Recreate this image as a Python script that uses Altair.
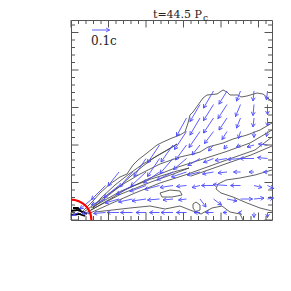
import math
import altair as alt
import pandas as pd

# Plot units: x 0..201, y 0..200 (no tick labels in the original)
X_MAX = 201
Y_MAX = 200

major_ticks = [0, 37.5, 75, 112.5, 150, 187.5]
minor_ticks = [7.5, 15, 22.5, 30, 45, 52.5, 60, 67.5, 82.5, 90, 97.5, 105,
               120, 127.5, 135, 142.5, 157.5, 165, 172.5, 180, 195]

title_text = "t=44.5 P"
title_sub = "c"
key_label = "0.1c"

# velocity vectors: rows of tails (x), common row y, components (dx, dy)
row_y = [129, 115.5, 102, 88.5, 75, 61.5, 48, 34.5, 21, 7.5]
row_x = [
    [142.5, 156, 169.5, 183, 196.5],
    [129, 142.5, 156, 169.5, 183, 196.5],
    [115.5, 129, 142.5, 156, 169.5, 183, 196.5],
    [115.5, 129, 142.5, 156, 169.5, 183, 196.5],
    [88.5, 102, 115.5, 129, 142.5, 156, 169.5, 183, 196.5],
    [75, 88.5, 102, 115.5, 129, 142.5, 156, 169.5, 183, 196.5],
    [48, 61.5, 75, 88.5, 102, 115.5, 129, 142.5, 156, 169.5, 183, 196.5],
    [34.5, 48, 61.5, 75, 88.5, 102, 115.5, 129, 142.5, 156, 169.5, 183, 196.5],
    [21, 34.5, 48, 61.5, 75, 88.5, 102, 115.5, 129, 142.5, 156, 169.5, 183, 196.5],
    [7.5, 21, 34.5, 48, 61.5, 75, 88.5, 102, 115.5, 129, 142.5, 156, 169.5, 183, 196.5],
]
row_dx = [
    [-10, -8, -4, -1, -1],
    [-10, -10, -9, -5, -1, 0],
    [-10, -10, -10, -8, -4, -1, 0],
    [-12, -11, -9, -5, -2, 0, -1],
    [-12, -12, -11, -8, -5, -3, -4, -7, -9],
    [-12, -12, -13, -13, -12, -10, -12, -13, -14, -10],
    [-11, -13, -15, -16, -16, -15, -13, -11, -9, -7, -5, -4],
    [-14, -15, -16, -16, -15, -13, -10, -8, -12, -14, -10, 8, 6],
    [-12, -14, -14, -14, -14, -12, -10, -8, 6, 8, 10, 12, 10, 6],
    [-6, -10, -12, -12, -12, -10, -10, -12, -10, -6, -8, -4, -2, 0, 0],
]
row_dy = [
    [-17, -13, -10, -10, -9],
    [-17, -16, -14, -12, -11, -10],
    [-18, -17, -15, -12, -10, -9, -8],
    [-18, -16, -12, -8, -7, -6, -5],
    [-18, -17, -15, -10, -6, -4, -2, -2, 1],
    [-18, -18, -15, -11, -7, -4, -2, -1, 0, 1],
    [-14, -15, -14, -11, -8, -5, -3, -2, -1, 0, 0, 0],
    [-14, -12, -9, -6, -4, -2, -1, -2, 0, 1, 0, -2, -3],
    [-10, -6, -4, -3, -2, -1, -1, -1, -8, -6, -2, 0, 1, 1],
    [-3, -1, -1, 0, 0, 0, 0, 0, 0, 0, 0, 0, 0, -5, -5],
]
# reference arrow (0.1c)
key_x, key_y, key_dx, key_dy = 21, 190, 17.6, 0

# density contours (grey)
contour_x = [
    [9, 17, 22, 29, 39, 49, 56, 62, 67, 76, 86, 92, 101, 109, 114, 117, 119, 122, 127, 132, 136, 146, 149, 152, 156, 159, 167, 170, 176, 186, 192, 197, 201],
    [22, 34, 48, 60, 72, 84, 96, 106, 100, 86, 72, 58, 44, 30, 22],
    [13, 29, 49, 69, 89, 109, 122, 129, 137, 152, 162, 176, 189, 201],
    [15, 34, 54, 79, 104, 129, 154, 179, 201],
    [17, 39, 64, 89, 114, 139, 164, 184, 201],
    [20, 50, 80, 105, 118, 106, 80, 50, 20],
    [120, 140, 160, 180, 201],
    [201, 184, 169, 155, 147, 145, 150, 162, 176, 189, 201],
    [125, 129, 129, 125, 122, 122, 125],
    [89, 99, 109, 111, 101, 91, 89],
    [24, 59, 79, 94, 109, 119, 130, 141, 151, 159, 169, 172],
]
contour_y = [
    [6, 14, 19, 27, 36, 43, 46, 55, 60, 67, 75, 78, 82, 85, 88, 97, 105, 108, 115, 122, 125, 126, 128, 130, 128, 125, 125, 123, 124, 127, 126, 122, 118],
    [12, 22, 33, 44, 54, 63, 70, 76, 72, 64, 56, 46, 35, 22, 12],
    [8, 20, 34, 46, 56, 63, 66, 68, 73, 77, 81, 85, 90, 97],
    [7, 18, 30, 42, 52, 60, 68, 77, 90],
    [6, 16, 27, 37, 45, 54, 63, 70, 83],
    [10, 26, 38, 47, 52, 49, 41, 29, 12],
    [44, 51, 58, 65, 74],
    [50, 45, 42, 40, 36, 31, 27, 23, 17, 12, 9],
    [18, 15, 10, 8, 12, 16, 18],
    [27, 30, 29, 25, 23, 23, 27],
    [8, 12, 14, 11, 14, 10, 6, 12, 14, 8, 6, 0],
]
# dense (black) contours at the origin
core_x = [[0, 6, 12, 16], [0, 8, 14], [2, 7, 10]]
core_y = [[9, 10, 8, 6], [5, 6, 4], [12, 12, 9]]

# red circle around the central object
circle_r_outer = 21.5
circle_r_inner = 19.3

BLUE = "#4d4dff"
GREY = "#3a3a3a"
FRAME = "#555555"
SERIF = "DejaVu Serif"


def lines_df(xs_list, ys_list, prefix):
    rows = []
    for n, (xs, ys) in enumerate(zip(xs_list, ys_list)):
        for k, (x, y) in enumerate(zip(xs, ys)):
            rows.append({"id": f"{prefix}{n}", "k": k, "x": x, "y": y})
    return pd.DataFrame(rows)


arrows = []
for yv, xs, dxs, dys in zip(row_y, row_x, row_dx, row_dy):
    for xv, dx, dy in zip(xs, dxs, dys):
        arrows.append((xv, yv, dx, dy))
arrows.append((key_x, key_y, key_dx, key_dy))
adf = pd.DataFrame(arrows, columns=["x", "y", "dx", "dy"])
adf["xh"] = adf["x"] + adf["dx"]
adf["yh"] = adf["y"] + adf["dy"]
adf["ang"] = [math.degrees(math.atan2(a, b)) % 360 for a, b in zip(adf["dx"], adf["dy"])]

MAJ, MIN = 7.5, 4.0
tick_rows = []
for t, L in [(v, MAJ) for v in major_ticks] + [(v, MIN) for v in minor_ticks]:
    tick_rows.append({"x": t, "x2": t, "y": 0, "y2": L})
    tick_rows.append({"x": t, "x2": t, "y": Y_MAX, "y2": Y_MAX - L})
    tick_rows.append({"x": 0, "x2": L, "y": t, "y2": t})
    tick_rows.append({"x": X_MAX, "x2": X_MAX - L, "y": t, "y2": t})
tdf = pd.DataFrame(tick_rows)

xs = alt.Scale(domain=[0, X_MAX], nice=False, zero=False)
ys = alt.Scale(domain=[0, Y_MAX], nice=False, zero=False)
X = lambda f: alt.X(f, type="quantitative", scale=xs, axis=None)
Y = lambda f: alt.Y(f, type="quantitative", scale=ys, axis=None)

ticks = alt.Chart(tdf).mark_rule(color=FRAME, strokeWidth=1).encode(
    x=X("x"), x2="x2", y=Y("y"), y2="y2")

contours = alt.Chart(lines_df(contour_x, contour_y, "c")).mark_line(
    color=GREY, strokeWidth=0.8, clip=True).encode(
    x=X("x"), y=Y("y"), detail="id:N", order="k:Q")

core = alt.Chart(lines_df(core_x, core_y, "k")).mark_line(
    color="black", strokeWidth=1.8, clip=True).encode(
    x=X("x"), y=Y("y"), detail="id:N", order="k:Q")

shafts = alt.Chart(adf).mark_rule(color=BLUE, strokeWidth=0.9).encode(
    x=X("x"), y=Y("y"), x2="xh", y2="yh")

heads = alt.Chart(adf).mark_point(
    shape="M -0.55 1 L 0 0 L 0.55 1", size=49, filled=False,
    color=BLUE, strokeWidth=0.9, opacity=1).encode(
    x=X("xh"), y=Y("yh"), angle=alt.Angle("ang:Q", scale=None))

ring = alt.Chart(pd.DataFrame({"x": [0], "y": [0]})).mark_arc(
    radius=circle_r_outer, radius2=circle_r_inner, theta=0, theta2=math.pi / 2,
    color="#ff0000").encode(x=X("x"), y=Y("y"))

title = alt.Chart(pd.DataFrame({"t": [title_text]})).mark_text(
    font=SERIF, fontSize=11, align="right", baseline="alphabetic",
    color="#222222").encode(x=alt.value(131), y=alt.value(-2), text="t:N")
title_c = alt.Chart(pd.DataFrame({"t": [title_sub]})).mark_text(
    font=SERIF, fontSize=9, align="left", baseline="alphabetic",
    color="#222222").encode(x=alt.value(132), y=alt.value(1), text="t:N")
key_text = alt.Chart(pd.DataFrame({"t": [key_label]})).mark_text(
    font=SERIF, fontSize=12, align="left", baseline="alphabetic",
    color="#222222").encode(x=alt.value(20), y=alt.value(25), text="t:N")

chart = alt.layer(
    contours, core, shafts, heads, ring, ticks, title, title_c, key_text
).properties(
    width=X_MAX, height=Y_MAX,
    autosize=alt.AutoSizeParams(type="none"),
    padding={"left": 63, "top": 12, "right": 4, "bottom": 50},
).configure_view(stroke=FRAME, strokeWidth=1)

chart.save("out.html", embed_options={"renderer": "svg", "actions": False})
